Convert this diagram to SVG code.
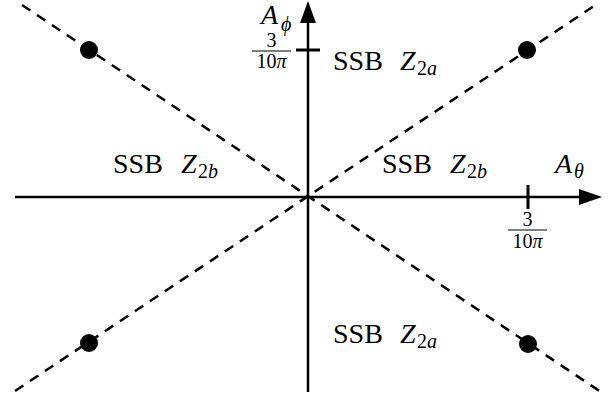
<svg xmlns="http://www.w3.org/2000/svg" width="615" height="401" viewBox="0 0 615 401">
<style>
.t{font-family:"Liberation Serif","DejaVu Serif",serif;fill:#000}
.big{font-size:28px}
.sub{font-size:20px}
.it{font-style:italic}
.frac{font-size:20px}
.dash{stroke:#000;stroke-width:2.5;stroke-dasharray:10 8;fill:none}
.axis{stroke:#000;stroke-width:2.5;fill:none}
.tick{stroke:#000;stroke-width:3}
.bar{stroke:#000;stroke-width:1}
</style>
<rect width="615" height="401" fill="#fff"/>
<g id="connectors">
<line class="dash" x1="22" y1="5" x2="601" y2="392"/>
<line class="dash" x1="15" y1="391" x2="594" y2="6"/>
</g>
<g id="axis-theta">
<line class="axis" x1="15" y1="197" x2="582" y2="197"/>
<polygon points="602,197 579,189 579,205" fill="#000"/>
<line class="tick" x1="528" y1="185" x2="528" y2="209"/>
<text class="t frac" x="527.5" y="226" text-anchor="middle">3</text>
<line class="bar" x1="508" y1="230" x2="547" y2="230"/>
<text class="t frac" x="527.5" y="248" text-anchor="middle">10<tspan class="it">π</tspan></text>
<text class="t big it" x="555" y="173">A</text>
<text class="t sub it" x="574" y="178">θ</text>
</g>
<g id="axis-phi">
<line class="axis" x1="308" y1="392" x2="308" y2="20"/>
<polygon points="308,1 300,23 316,23" fill="#000"/>
<line class="tick" x1="296" y1="50" x2="320" y2="50"/>
<text class="t frac" x="271.5" y="47" text-anchor="middle">3</text>
<line class="bar" x1="252" y1="51" x2="291" y2="51"/>
<text class="t frac" x="271.5" y="68" text-anchor="middle">10<tspan class="it">π</tspan></text>
<text class="t big it" x="261" y="24">A</text>
<text class="t sub it" x="281" y="31">ϕ</text>
</g>
<g id="dot-tl"><circle cx="89" cy="50" r="9"/></g>
<g id="dot-tr"><circle cx="527" cy="50" r="9"/></g>
<g id="dot-bl"><circle cx="89" cy="343" r="9"/></g>
<g id="dot-br"><circle cx="528" cy="344" r="9"/></g>
<g id="label-top">
<text class="t big" x="333" y="70">SSB</text>
<text class="t big it" x="400" y="70">Z</text>
<text class="t sub" x="417" y="75">2<tspan class="it">a</tspan></text>
</g>
<g id="label-bottom">
<text class="t big" x="333" y="343">SSB</text>
<text class="t big it" x="400" y="343">Z</text>
<text class="t sub" x="417" y="348">2<tspan class="it">a</tspan></text>
</g>
<g id="label-left">
<text class="t big" x="113" y="173">SSB</text>
<text class="t big it" x="181" y="173">Z</text>
<text class="t sub" x="198" y="178">2<tspan class="it">b</tspan></text>
</g>
<g id="label-right">
<text class="t big" x="382" y="173">SSB</text>
<text class="t big it" x="450" y="173">Z</text>
<text class="t sub" x="467" y="178">2<tspan class="it">b</tspan></text>
</g>
</svg>
